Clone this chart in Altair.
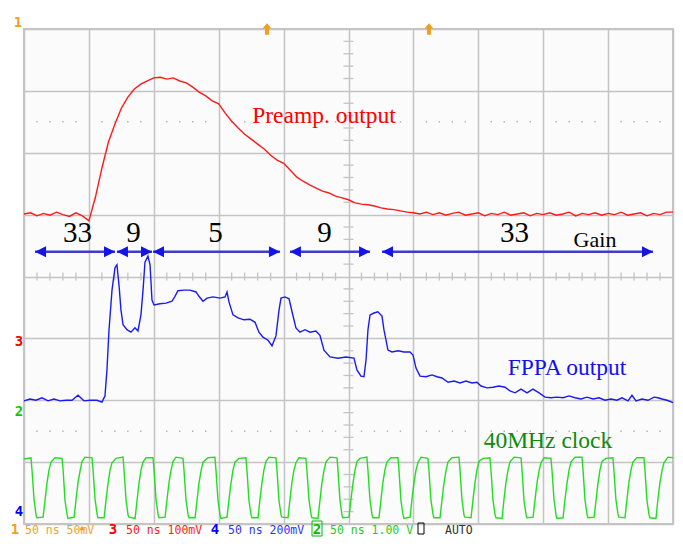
import altair as alt
import pandas as pd

# ---------------- data ----------------
# time in ns (50 ns / div), level in screen divisions (0 = bottom edge, 8 = top edge)
preamp_t = [0, 5, 10, 15, 20, 25, 30, 35, 40, 45, 50,
            55, 60, 65, 70, 75, 80, 85, 90, 95, 100,
            105, 110, 115, 120, 125, 130, 135, 140, 145, 150,
            155, 160, 165, 170, 175, 180, 185, 190, 195, 200,
            205, 210, 215, 220, 225, 230, 235, 240, 245, 250,
            255, 260, 265, 270, 275, 280, 285, 290, 295, 300,
            305, 310, 315, 320, 325, 330, 335, 340, 345, 350,
            355, 360, 365, 370, 375, 380, 385, 390, 395, 400,
            405, 410, 415, 420, 425, 430, 435, 440, 445, 450,
            455, 460, 465, 470, 475, 480, 485, 490, 495, 500]
preamp_v = [5.01, 5.03, 4.98, 5.02, 4.99, 5.04, 5.00, 4.97, 5.03, 4.98, 4.90,
            5.28, 5.75, 6.17, 6.46, 6.72, 6.90, 7.03, 7.11, 7.16, 7.21,
            7.22, 7.19, 7.21, 7.16, 7.13, 7.06, 6.98, 6.92, 6.84, 6.79,
            6.64, 6.51, 6.40, 6.30, 6.22, 6.14, 6.06, 5.96, 5.88, 5.83,
            5.72, 5.61, 5.54, 5.48, 5.43, 5.38, 5.35, 5.30, 5.27, 5.24,
            5.19, 5.17, 5.16, 5.14, 5.11, 5.09, 5.08, 5.06, 5.04, 5.03,
            5.01, 5.04, 5.00, 5.03, 4.99, 5.02, 5.04, 4.99, 5.01, 5.03,
            4.98, 5.02, 5.00, 5.04, 4.99, 5.01, 5.03, 4.98, 5.02, 5.00,
            5.03, 4.99, 5.01, 5.04, 4.98, 5.02, 5.00, 5.03, 4.99, 5.02,
            5.00, 5.04, 4.99, 5.01, 5.03, 4.98, 5.02, 5.00, 5.04, 5.04]

fppa_t = [0, 4.6, 9.2, 13.9, 18.5, 23.1, 27.7, 32.4, 37.0, 41.6,
          46.2, 50.8, 56.2, 60.1, 62.4, 63.9, 65.5, 67.8, 70.1, 71.6,
          73.2, 74.7, 76.3, 79.3, 82.4, 85.5, 87.8, 90.1, 91.7, 93.2,
          95.5, 97.1, 98.6, 100.2, 104.8, 109.4, 114.0, 116.3, 118.6, 123.3,
          127.9, 132.5, 134.8, 137.9, 141.0, 145.6, 151.0, 154.9, 156.4, 157.9,
          161.0, 164.9, 169.5, 174.1, 178.0, 181.0, 184.1, 188.0, 191.1, 194.1,
          196.5, 198.0, 201.1, 204.2, 206.5, 209.5, 212.6, 216.5, 220.3, 224.9,
          228.0, 231.1, 235.7, 241.9, 248.1, 254.2, 256.5, 259.6, 261.9, 263.5,
          265.0, 266.6, 269.6, 272.6, 275.8, 277.3, 280.4, 283.5, 288.1, 292.8,
          297.4, 299.7, 302.0, 305.1, 309.7, 314.3, 318.2, 322.0, 326.7, 331.3,
          335.9, 340.5, 345.1, 349.0, 352.1, 356.7, 361.3, 365.9, 370.6, 374.4,
          378.3, 382.9, 387.5, 392.1, 396.8, 401.4, 406.0, 410.6, 415.3, 419.9,
          424.5, 429.1, 433.7, 438.4, 443.0, 447.6, 452.2, 456.8, 460.7, 465.3,
          468.4, 471.5, 476.1, 480.7, 485.4, 488.4, 491.5, 495.4, 500.0]
fppa_v = [1.99, 2.02, 2.00, 2.04, 1.99, 2.02, 1.99, 2.00, 2.00, 2.08,
          1.99, 2.00, 2.00, 1.97, 2.07, 2.49, 3.14, 3.78, 4.14, 4.19,
          3.86, 3.46, 3.22, 3.14, 3.10, 3.17, 3.12, 3.38, 3.78, 4.23,
          4.33, 4.19, 3.62, 3.54, 3.56, 3.57, 3.60, 3.68, 3.77, 3.78,
          3.78, 3.75, 3.68, 3.60, 3.65, 3.67, 3.65, 3.67, 3.75, 3.59,
          3.38, 3.33, 3.30, 3.31, 3.26, 3.10, 3.02, 2.97, 2.88, 3.04,
          3.46, 3.65, 3.67, 3.64, 3.43, 3.17, 3.10, 3.14, 3.10, 3.12,
          3.05, 2.81, 2.70, 2.68, 2.70, 2.68, 2.49, 2.39, 2.38, 2.65,
          3.14, 3.38, 3.41, 3.43, 3.36, 3.14, 2.81, 2.78, 2.80, 2.78,
          2.78, 2.73, 2.52, 2.39, 2.38, 2.41, 2.38, 2.36, 2.29, 2.31,
          2.28, 2.31, 2.28, 2.29, 2.23, 2.20, 2.21, 2.23, 2.21, 2.15,
          2.12, 2.18, 2.12, 2.18, 2.12, 2.05, 2.04, 2.05, 2.04, 2.07,
          2.04, 2.02, 2.05, 2.02, 2.04, 2.00, 2.02, 2.00, 2.04, 1.99,
          2.08, 1.99, 2.02, 2.00, 2.05, 2.04, 2.02, 2.00, 1.96]

clock_t = [0.0, 5.4, 6.2, 7.7, 9.3, 10.0, 14.7, 16.2, 17.7, 19.3, 20.8,
           23.9, 29.3, 30.1, 31.6, 33.2, 33.9, 38.6, 40.1, 41.6, 43.2, 44.7,
           47.0, 52.4, 53.2, 54.7, 56.3, 57.0, 61.7, 63.2, 64.7, 66.3, 67.8,
           70.9, 76.3, 77.1, 78.6, 80.2, 80.9, 85.6, 87.1, 88.6, 90.2, 91.7,
           94.0, 99.4, 100.2, 101.7, 103.3, 104.0, 108.7, 110.2, 111.7, 113.3, 114.8,
           117.1, 122.5, 123.3, 124.8, 126.4, 127.1, 131.8, 133.3, 134.8, 136.4, 137.9,
           141.7, 147.1, 147.9, 149.4, 151.0, 151.7, 156.4, 157.9, 159.4, 161.0, 162.5,
           165.6, 171.0, 171.8, 173.3, 174.9, 175.6, 180.3, 181.8, 183.3, 184.9, 186.4,
           188.7, 194.1, 194.9, 196.4, 198.0, 198.7, 203.4, 204.9, 206.4, 208.0, 209.5,
           211.8, 217.2, 218.0, 219.5, 221.1, 221.8, 226.5, 228.0, 229.5, 231.1, 232.6,
           235.7, 241.1, 241.9, 243.4, 245.0, 245.7, 250.4, 251.9, 253.4, 255.0, 256.5,
           258.8, 264.2, 265.0, 266.5, 268.1, 268.8, 273.5, 275.0, 276.5, 278.1, 279.6,
           282.7, 288.1, 288.9, 290.4, 292.0, 292.7, 297.4, 298.9, 300.4, 302.0, 303.5,
           305.8, 311.2, 312.0, 313.5, 315.1, 315.8, 320.5, 322.0, 323.5, 325.1, 326.6,
           329.7, 335.1, 335.9, 337.4, 339.0, 339.7, 344.4, 345.9, 347.4, 349.0, 350.5,
           353.6, 359.0, 359.8, 361.3, 362.9, 363.6, 368.3, 369.8, 371.3, 372.9, 374.4,
           377.5, 382.9, 383.7, 385.2, 386.8, 387.5, 392.2, 393.7, 395.2, 396.8, 398.3,
           400.6, 406.0, 406.8, 408.3, 409.9, 410.6, 415.3, 416.8, 418.3, 419.9, 421.4,
           424.5, 429.9, 430.7, 432.2, 433.8, 434.5, 439.2, 440.7, 442.2, 443.8, 445.3,
           448.3, 453.7, 454.5, 456.0, 457.6, 458.3, 463.0, 464.5, 466.0, 467.6, 469.1,
           472.2, 477.6, 478.4, 479.9, 481.5, 482.2, 486.9, 488.4, 489.9, 491.5, 493.0,
           496.1, 500.0]
clock_v = [1.05, 1.07, 0.86, 0.40, 0.14, 0.10, 0.11, 0.38, 0.66, 0.88, 1.00,
           1.07, 1.06, 0.88, 0.38, 0.15, 0.09, 0.11, 0.40, 0.67, 0.86, 1.01,
           1.08, 1.07, 0.87, 0.41, 0.16, 0.10, 0.10, 0.39, 0.65, 0.87, 0.99,
           1.06, 1.08, 0.86, 0.39, 0.14, 0.11, 0.09, 0.38, 0.66, 0.88, 1.00,
           1.07, 1.07, 0.87, 0.40, 0.15, 0.10, 0.11, 0.40, 0.67, 0.87, 1.01,
           1.08, 1.06, 0.86, 0.39, 0.15, 0.10, 0.10, 0.38, 0.66, 0.86, 1.00,
           1.07, 1.08, 0.87, 0.40, 0.14, 0.09, 0.11, 0.39, 0.65, 0.87, 1.00,
           1.06, 1.07, 0.86, 0.38, 0.15, 0.10, 0.10, 0.40, 0.66, 0.88, 1.01,
           1.08, 1.07, 0.87, 0.39, 0.15, 0.11, 0.10, 0.39, 0.67, 0.87, 0.99,
           1.07, 1.06, 0.86, 0.40, 0.16, 0.10, 0.09, 0.38, 0.66, 0.86, 1.00,
           1.08, 1.07, 0.87, 0.39, 0.14, 0.10, 0.11, 0.40, 0.65, 0.87, 1.01,
           1.06, 1.08, 0.86, 0.40, 0.15, 0.10, 0.10, 0.39, 0.67, 0.88, 1.00,
           1.07, 1.07, 0.87, 0.38, 0.15, 0.09, 0.11, 0.40, 0.66, 0.87, 0.99,
           1.08, 1.06, 0.86, 0.39, 0.16, 0.10, 0.10, 0.38, 0.65, 0.86, 1.00,
           1.07, 1.08, 0.87, 0.40, 0.14, 0.11, 0.10, 0.39, 0.66, 0.88, 1.01,
           1.06, 1.07, 0.86, 0.39, 0.15, 0.10, 0.09, 0.40, 0.67, 0.87, 1.00,
           1.08, 1.07, 0.87, 0.38, 0.15, 0.10, 0.11, 0.39, 0.66, 0.86, 0.99,
           1.07, 1.06, 0.86, 0.40, 0.14, 0.09, 0.10, 0.40, 0.65, 0.87, 1.00,
           1.08, 1.08, 0.87, 0.39, 0.15, 0.10, 0.11, 0.38, 0.66, 0.88, 1.01,
           1.06, 1.07, 0.86, 0.40, 0.16, 0.11, 0.10, 0.39, 0.67, 0.87, 1.00,
           1.07, 1.07, 0.87, 0.39, 0.15, 0.10, 0.09, 0.40, 0.66, 0.86, 0.99,
           1.08, 1.07]

# screen graticule
grid_t = [0, 50, 100, 150, 200, 250, 300, 350, 400, 450, 500]
grid_d = [0, 1, 2, 3, 4, 5, 6, 7, 8]
minor_t = [10, 20, 30, 40, 60, 70, 80, 90, 110, 120, 130, 140, 160, 170, 180, 190,
           210, 220, 230, 240, 260, 270, 280, 290, 310, 320, 330, 340, 360, 370,
           380, 390, 410, 420, 430, 440, 460, 470, 480, 490]
minor_d = [0.2, 0.4, 0.6, 0.8, 1.2, 1.4, 1.6, 1.8, 2.2, 2.4, 2.6, 2.8, 3.2, 3.4,
           3.6, 3.8, 4.2, 4.4, 4.6, 4.8, 5.2, 5.4, 5.6, 5.8, 6.2, 6.4, 6.6, 6.8,
           7.2, 7.4, 7.6, 7.8]
dot_levels = [6.5, 1.5]

# gain segments (ns)
seg_start = [8.5, 71.6, 99.4, 204.9, 275.8]
seg_end = [70.1, 98.6, 197.2, 266.6, 484.6]
seg_level = 4.40
gain_labels = ["33", "9", "5", "9", "33"]
gain_label_t = [41.2, 84.4, 147.5, 231.5, 377.9]

# ---------------- frames ----------------
preamp = pd.DataFrame({"t": preamp_t, "v": preamp_v})
fppa = pd.DataFrame({"t": fppa_t, "v": fppa_v})
clock = pd.DataFrame({"t": clock_t, "v": clock_v})
xticks = pd.DataFrame({"t": minor_t, "v": [4.0] * len(minor_t)})
yticks = pd.DataFrame({"t": [250.0] * len(minor_d), "v": minor_d})
dots = pd.DataFrame({"t": minor_t * len(dot_levels),
                     "v": [lv for lv in dot_levels for _ in minor_t]})
segs = pd.DataFrame({"t": seg_start, "t2": seg_end, "v": [seg_level] * len(seg_start)})
labels = pd.DataFrame({
    "label": gain_labels + ["Gain", "Preamp. output", "FPPA output", "40MHz clock"],
    "t": gain_label_t + [439.9, 231.1, 418.3, 403.7],
    "v": [4.56] * 5 + [4.48, 6.48, 2.41, 1.23],
    "color": ["#000000"] * 6 + ["#ff0000", "#1010f0", "#0b8a0b"],
    "size": [29] * 5 + [22, 23.5, 23.5, 23.5],
})

xs = alt.Scale(domain=[0, 500], nice=False, zero=False)
ys = alt.Scale(domain=[0, 8], nice=False, zero=False)
GRID = "#c4c4c4"
xaxis = alt.Axis(values=grid_t, grid=True, gridColor=GRID, gridWidth=1.5,
                 labels=False, ticks=False, domain=False, title=None)
yaxis = alt.Axis(values=grid_d, grid=True, gridColor=GRID, gridWidth=1.5,
                 labels=False, ticks=False, domain=False, title=None)


def X(f="t"):
    return alt.X(f, type="quantitative", scale=xs, axis=xaxis)


def Y(f="v"):
    return alt.Y(f, type="quantitative", scale=ys, axis=yaxis)


xtick_layer = alt.Chart(xticks).mark_tick(orient="vertical", size=8, thickness=1.3,
                                          color=GRID, opacity=1).encode(x=X(), y=Y())
ytick_layer = alt.Chart(yticks).mark_tick(orient="horizontal", size=10, thickness=1.3,
                                          color=GRID, opacity=1).encode(x=X(), y=Y())
dot_layer = alt.Chart(dots).mark_square(size=2, color="#b0b0b0", opacity=1).encode(x=X(), y=Y())

clock_layer = alt.Chart(clock).mark_line(color="#22dd22", strokeWidth=1.4).encode(
    x=X(), y=Y(), order="t:Q")
fppa_layer = alt.Chart(fppa).mark_line(color="#1a1af5", strokeWidth=1.4).encode(
    x=X(), y=Y(), order="t:Q")
preamp_layer = alt.Chart(preamp).mark_line(color="#ff1a1a", strokeWidth=1.4).encode(
    x=X(), y=Y(), order="t:Q")

seg_layer = alt.Chart(segs).mark_rule(color="#3c3cd0", strokeWidth=2.5).encode(
    x=X(), x2="t2:Q", y=Y())
head_r = alt.Chart(segs).mark_point(shape="M0,0 L-2,-1 L-2,1 Z", size=121, filled=True,
                                    color="#1414e6", opacity=1).encode(x=X("t2"), y=Y())
head_l = alt.Chart(segs).mark_point(shape="M0,0 L2,-1 L2,1 Z", size=121, filled=True,
                                    color="#1414e6", opacity=1).encode(x=X("t"), y=Y())

label_layer = alt.Chart(labels).mark_text(font="Liberation Serif", align="center",
                                          baseline="alphabetic").encode(
    x=X(), y=Y(), text="label:N",
    color=alt.Color("color:N", scale=None),
    size=alt.Size("size:Q", scale=None))

# ---- scope status / channel markers (screen decorations outside the graticule)
STATUS_Y = 505
status = pd.DataFrame({
    "label": ["50 ns 50mV", "50 ns 100mV", "50 ns 200mV", "50 ns 1.00 V", "AUTO"],
    "px": [1, 102, 204, 306, 421],
    "color": ["#f0a030", "#ff2020", "#3030ff", "#22cc22", "#303030"],
})
status_layer = alt.Chart(status).mark_text(font="DejaVu Sans Mono", fontSize=11.5,
                                           align="left", baseline="alphabetic").encode(
    x=alt.X("px:Q", scale=None), y=alt.value(STATUS_Y), text="label:N",
    color=alt.Color("color:N", scale=None))

chan = pd.DataFrame({
    "label": ["1", "3", "4", "2", "1", "3", "2", "4"],
    "px": [-9, 89, 191, 293, -6, -5, -5, -5],
    "py": [STATUS_Y] * 4 + [-2, 317, 387, 487],
    "color": ["#f0a020", "#ff0000", "#0000ff", "#00bb00",
              "#f0a020", "#ff0000", "#00cc00", "#0000ff"],
})
chan_layer = alt.Chart(chan).mark_text(font="DejaVu Sans Mono", fontSize=14, fontWeight="bold",
                                       align="center", baseline="alphabetic").encode(
    x=alt.X("px:Q", scale=None), y=alt.Y("py:Q", scale=None), text="label:N",
    color=alt.Color("color:N", scale=None))

boxes = pd.DataFrame({"px": [288, 394], "px2": [298, 400],
                      "py": [STATUS_Y - 13, STATUS_Y - 11], "py2": [STATUS_Y + 2, STATUS_Y],
                      "color": ["#00bb00", "#000000"]})
box_layer = alt.Chart(boxes).mark_rect(filled=False, strokeWidth=1).encode(
    x=alt.X("px:Q", scale=None), x2="px2:Q", y=alt.Y("py:Q", scale=None), y2="py2:Q",
    stroke=alt.Color("color:N", scale=None))

trig = pd.DataFrame({"t": [187.2, 312.0]})
trig_layer = alt.Chart(trig).mark_point(
    shape="M0,-1 L0.8,-0.1 L0.35,-0.1 L0.35,1 L-0.35,1 L-0.35,-0.1 L-0.8,-0.1 Z",
    size=130, filled=True, color="#f0a020", opacity=1).encode(x=X(), y=alt.value(0))

tpos = pd.DataFrame({"t": [44.7]})
tpos_layer = alt.Chart(tpos).mark_point(shape="triangle-up", size=30, filled=True,
                                        color="#f0a020", opacity=1).encode(
    x=X(), y=alt.value(499))

chart = alt.layer(
    xtick_layer, ytick_layer, dot_layer,
    clock_layer, fppa_layer, preamp_layer,
    seg_layer, head_r, head_l, label_layer,
    status_layer, chan_layer, box_layer, trig_layer, tpos_layer,
).properties(
    width=649, height=495, autosize="none",
    padding={"left": 16, "top": 21, "right": 2, "bottom": 16},
    background="#ffffff",
).configure_view(stroke=GRID, strokeWidth=2, fill="#fbfbfb")

chart.save("out.html", embed_options={"renderer": "svg", "actions": False})
